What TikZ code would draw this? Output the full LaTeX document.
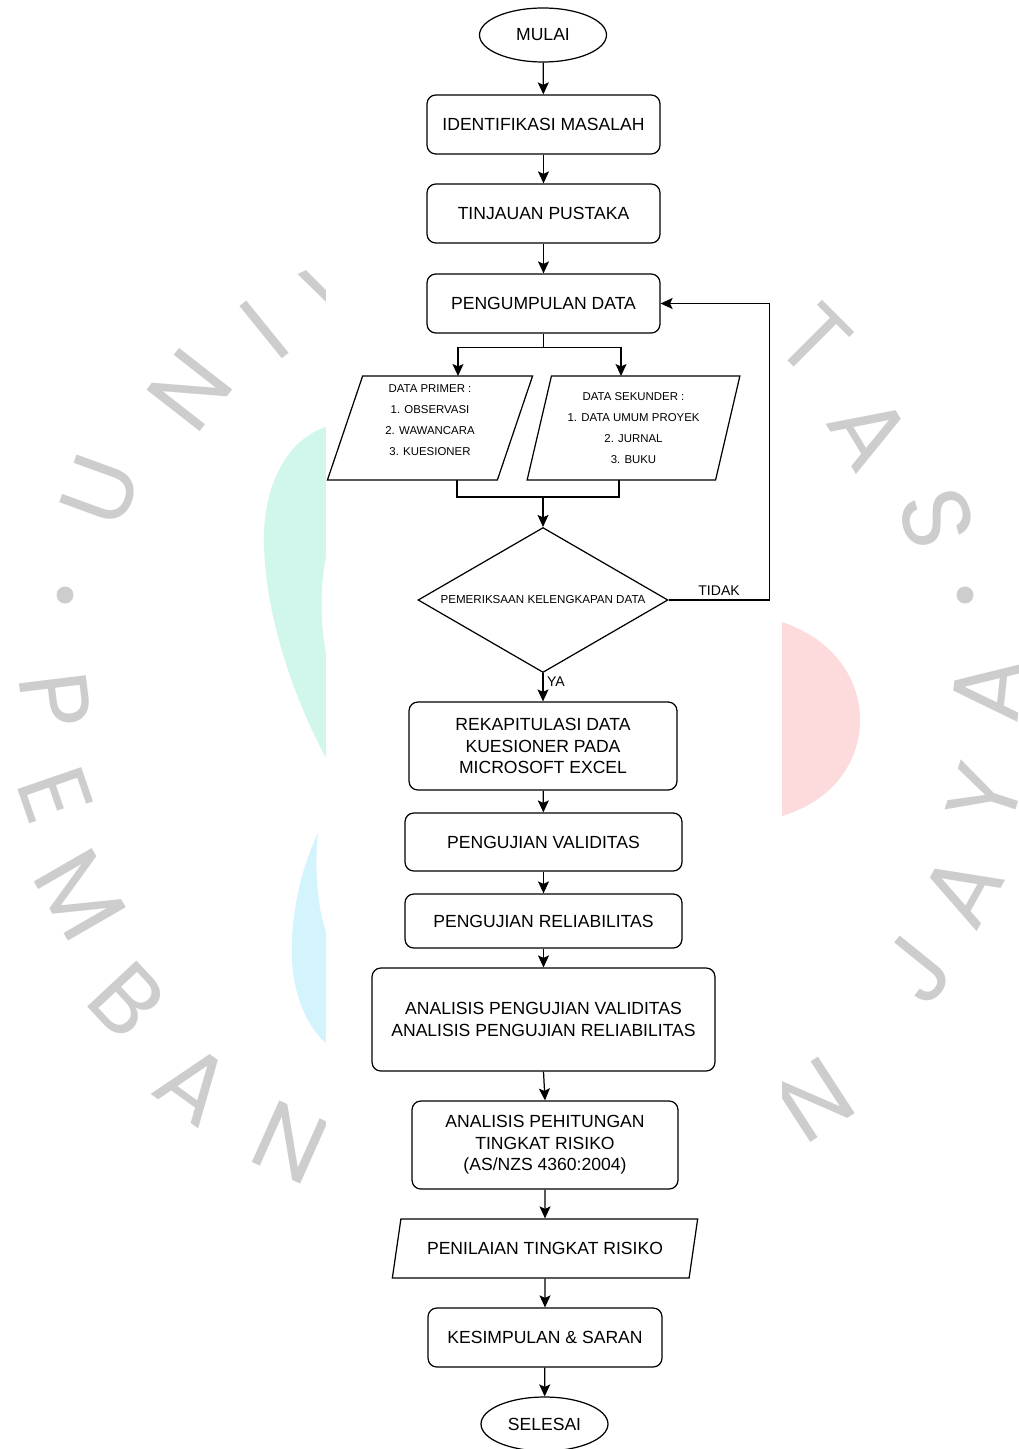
\documentclass[tikz,border=0pt]{standalone}
\usepackage{fontspec}
\setmainfont{Liberation Sans}
\newfontfamily\wmfont{Poppins}
\usetikzlibrary{shapes.geometric, arrows.meta, positioning}
\definecolor{wmgray}{RGB}{205,205,205}
\definecolor{wmgreen}{RGB}{209,246,235}
\definecolor{wmblue}{RGB}{211,244,253}
\definecolor{wmpink}{RGB}{253,218,219}

\tikzset{
  box/.style={draw, rounded corners=5pt, line width=0.7pt, align=center,
              font=\fontsize{10}{12.2}\selectfont, inner sep=2pt},
  term/.style={draw, ellipse, line width=0.7pt, minimum width=2.54cm,
               minimum height=1.08cm, font=\fontsize{10}{12}\selectfont},
  iobox/.style={draw, trapezium, trapezium stretches=true, line width=0.7pt,
                align=center, inner sep=1pt},
  decide/.style={draw, diamond, shape aspect=1.72, line width=0.7pt, minimum width=5cm,
                 minimum height=2.9cm, font=\fontsize{6.6}{8}\selectfont, inner sep=0pt},
  arr/.style={line width=0.7pt, -{Stealth[length=0.24cm, width=0.22cm, inset=0.05cm]}},
  lnk/.style={line width=0.7pt},
  lbl/.style={font=\fontsize{8}{10}\selectfont, inner sep=2pt},
  wm/.style={text=wmgray, font=\wmfont\fontsize{55}{55}\selectfont, inner sep=0pt},
}

\begin{document}
\begin{tikzpicture}[x=0.02cm, y=-0.02cm]
  \useasboundingbox (0,0) rectangle (1018,1449);
  \fill[white] (0,0) rectangle (1018,1449);

  % watermark
  \fill[wmgreen] (326,427) .. controls (285,440) and (262,490) .. (264,545)
    .. controls (266,620) and (295,700) .. (326,758) -- (326,653)
    .. controls (320,625) and (320,585) .. (326,557) -- cycle;
  \fill[wmblue] (318,833) .. controls (300,870) and (290,920) .. (292,960)
    .. controls (294,1000) and (310,1030) .. (326,1043) -- (326,932)
    .. controls (318,910) and (314,870) .. (318,833) -- cycle;
  \fill[wmpink] (782,622) .. controls (835,640) and (860,680) .. (860,720)
    .. controls (860,760) and (835,800) .. (782,816) -- cycle;
  \foreach \ch/\x/\y/\r [count=\i] in {U/100/490/70, N/190/390/52, I/265/330/39,
      V/340/292/25, T/815/340/-45, A/870/432/-59, S/937/518/-74,
      P/55/700/-83, E/55/795/-71, M/80/895/-60, B/127/1000/-47, A/195/1085/-36,
      N/290/1142/-24, N/815/1100/33, J/917/970/51, A/962/890/61, Y/985/795/72,
      A/988/690/84}
    \node[wm, rotate=\r] (wm\i) at (\x,\y) {\ch};
  \fill[wmgray] (65,595) circle (0.17cm);
  \fill[wmgray] (965,595) circle (0.17cm);
  \fill[white] (326,0) rectangle (782,1449);

  % flowchart
  \node[term] (mulai) at (543,35) {MULAI};
  \node[box, minimum width=4.66cm, minimum height=1.18cm] (identifikasi) at (543.5,124.5) {IDENTIFIKASI MASALAH};
  \node[box, minimum width=4.66cm, minimum height=1.18cm] (tinjauan) at (543.5,213.5) {TINJAUAN PUSTAKA};
  \node[box, minimum width=4.66cm, minimum height=1.18cm] (pengumpulan) at (543.5,303.5) {PENGUMPULAN DATA};
  \node[iobox, trapezium left angle=75, trapezium right angle=105, minimum width=4.12cm,
        minimum height=2.08cm, font=\fontsize{6.5}{12}\selectfont] (primer) at (430,428)
        {DATA PRIMER :\\1. OBSERVASI\\2. WAWANCARA\\3. KUESIONER\\[-3pt]};
  \node[iobox, trapezium left angle=75, trapezium right angle=105, minimum width=4.26cm,
        minimum height=2.08cm, font=\fontsize{6.5}{12}\selectfont] (sekunder) at (633.5,428)
        {DATA SEKUNDER :\\1. DATA UMUM PROYEK\\2. JURNAL\\3. BUKU};
  \node[decide] (cek) at (543,600) {PEMERIKSAAN KELENGKAPAN DATA};
  \node[box, minimum width=5.36cm, minimum height=1.76cm] (rekap) at (543,746)
        {REKAPITULASI DATA\\KUESIONER PADA\\MICROSOFT EXCEL};
  \node[box, minimum width=5.54cm, minimum height=1.16cm] (validitas) at (543.5,842) {PENGUJIAN VALIDITAS};
  \node[box, minimum width=5.54cm, minimum height=1.08cm] (reliabilitas) at (543.5,921) {PENGUJIAN RELIABILITAS};
  \node[box, minimum width=6.86cm, minimum height=2.06cm] (analisis) at (543.5,1019.5)
        {ANALISIS PENGUJIAN VALIDITAS\\ANALISIS PENGUJIAN RELIABILITAS};
  \node[box, minimum width=5.32cm, minimum height=1.76cm] (pehitungan) at (545,1145)
        {ANALISIS PEHITUNGAN\\TINGKAT RISIKO\\(AS/NZS 4360:2004)};
  \node[iobox, trapezium left angle=66, trapezium right angle=114, minimum width=6.12cm,
        minimum height=1.18cm, font=\fontsize{10}{12}\selectfont] (penilaian) at (545,1248.5)
        {PENILAIAN TINGKAT RISIKO};
  \node[box, minimum width=4.68cm, minimum height=1.18cm] (kesimpulan) at (545,1337.5) {KESIMPULAN \& SARAN};
  \node[term] (selesai) at (544.5,1424) {SELESAI};

  \coordinate (inL) at (458,376);
  \coordinate (inR) at (621,376);
  \coordinate (outL) at (457,480);
  \coordinate (outR) at (619,480);
  \coordinate (join) at (543,497);

  \draw[arr] (mulai) -- (identifikasi);
  \draw[arr] (identifikasi) -- (tinjauan);
  \draw[arr] (tinjauan) -- (pengumpulan);
  \draw[arr] (pengumpulan.south) -- ++(0,14) -| (inL);
  \draw[arr] (pengumpulan.south) -- ++(0,14) -| (inR);
  \draw[lnk] (outL) |- (join) -| (outR);
  \draw[arr] (join) -- (cek.north);
  \draw[arr] (cek.east) -- node[lbl, above] {TIDAK} ++(101,0) |- (pengumpulan.east);
  \draw[arr] (cek.south) -- node[lbl, right, pos=0.3] {YA} (rekap.north);
  \draw[arr] (rekap) -- (validitas);
  \draw[arr] (validitas) -- (reliabilitas);
  \draw[arr] (reliabilitas) -- (analisis);
  \draw[arr] (analisis.south) -- (pehitungan.north);
  \draw[arr] (pehitungan) -- (penilaian);
  \draw[arr] (penilaian) -- (kesimpulan);
  \draw[arr] (kesimpulan) -- (selesai);
\end{tikzpicture}
\end{document}
